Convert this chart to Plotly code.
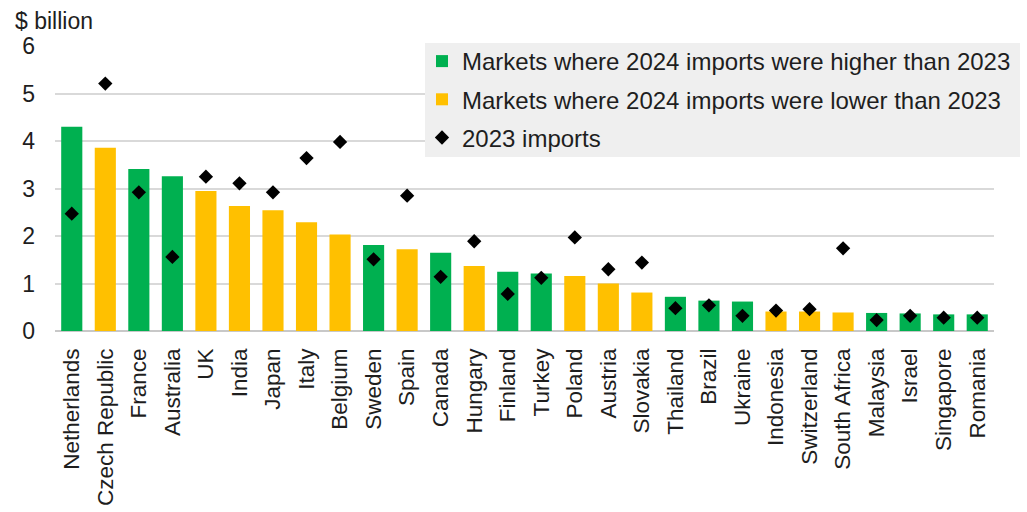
import plotly.graph_objects as go

# Import values by market, $ billion
countries = [
    "Netherlands", "Czech Republic", "France", "Australia", "UK", "India",
    "Japan", "Italy", "Belgium", "Sweden", "Spain", "Canada", "Hungary",
    "Finland", "Turkey", "Poland", "Austria", "Slovakia", "Thailand",
    "Brazil", "Ukraine", "Indonesia", "Switzerland", "South Africa",
    "Malaysia", "Israel", "Singapore", "Romania",
]
imports_2024 = [
    4.30, 3.86, 3.41, 3.26, 2.95, 2.63, 2.54, 2.29, 2.03, 1.81, 1.72, 1.65,
    1.37, 1.25, 1.21, 1.16, 1.00, 0.81, 0.72, 0.64, 0.62, 0.41, 0.41, 0.39,
    0.38, 0.37, 0.35, 0.35,
]
imports_2023 = [
    2.47, 5.21, 2.92, 1.56, 3.25, 3.11, 2.92, 3.64, 3.98, 1.51, 2.85, 1.14,
    1.89, 0.78, 1.12, 1.97, 1.30, 1.44, 0.48, 0.54, 0.32, 0.43, 0.46, 1.74,
    0.23, 0.32, 0.28, 0.28,
]
y_ticks = [0, 1, 2, 3, 4, 5, 6]

GREEN = "#00B050"
GOLD = "#FFC000"
LEGEND_BG = "#EFEFEF"
FONT = "Liberation Sans, Arial, sans-serif"
TEXT = "#1e1e1e"

up_x = [c for c, a, b in zip(countries, imports_2024, imports_2023) if a > b]
up_y = [a for a, b in zip(imports_2024, imports_2023) if a > b]
down_x = [c for c, a, b in zip(countries, imports_2024, imports_2023) if a <= b]
down_y = [a for a, b in zip(imports_2024, imports_2023) if a <= b]

fig = go.Figure()
fig.add_trace(go.Bar(
    x=up_x, y=up_y, marker_color=GREEN, marker_line_width=0,
    name="Markets where 2024 imports were higher than 2023",
    legendgroup="up",
))
fig.add_trace(go.Bar(
    x=down_x, y=down_y, marker_color=GOLD, marker_line_width=0,
    name="Markets where 2024 imports were lower than 2023",
    legendgroup="down",
))
fig.add_trace(go.Scatter(
    x=countries, y=imports_2023, mode="markers",
    marker=dict(symbol="diamond", size=11, color="black"),
    name="2023 imports", legendgroup="prev",
))

W, H = 1027, 512
ml, mr, mt, mb = 55, 33, 46, 181
pw = W - ml - mr
ph = H - mt - mb


def px_x(x):
    return (x - ml) / pw


def px_y(y):
    return (H - mb - y) / ph


fig.update_layout(
    width=W, height=H,
    margin=dict(l=ml, r=mr, t=mt, b=mb, pad=0, autoexpand=False),
    paper_bgcolor="white", plot_bgcolor="white",
    barmode="overlay", bargap=0.37,
    font=dict(family=FONT, color=TEXT, size=22),
    showlegend=True,
    legend=dict(
        x=px_x(422), y=px_y(39),
        xanchor="left", yanchor="top",
        bgcolor="rgba(0,0,0,0)", borderwidth=0,
        font=dict(size=24, family=FONT, color=TEXT),
        itemwidth=30, traceorder="grouped", tracegroupgap=4,
    ),
    xaxis=dict(
        type="category", categoryorder="array", categoryarray=countries,
        range=[-0.5, len(countries) - 0.5], autorange=False,
        tickangle=-90, tickfont=dict(size=22.5), showgrid=False,
        showline=False, ticks="", ticklabelstandoff=12, automargin=False,
    ),
    yaxis=dict(
        range=[0, 6], tickvals=y_ticks, ticktext=[str(v) for v in y_ticks],
        showgrid=True, gridcolor="#D9D9D9", gridwidth=1.5,
        zeroline=True, zerolinecolor="#C8C8C8", zerolinewidth=1.5,
        showline=False, ticks="", tickfont=dict(size=23),
        ticklabelstandoff=19, automargin=False,
    ),
    shapes=[dict(
        type="rect", xref="paper", yref="paper", layer="above",
        x0=px_x(425), x1=px_x(1020), y0=px_y(157), y1=px_y(43),
        fillcolor=LEGEND_BG, line_width=0,
    )],
    annotations=[dict(
        text="$ billion", xref="paper", yref="paper",
        x=px_x(13), y=px_y(21),
        xanchor="left", yanchor="middle", showarrow=False,
        font=dict(size=23, family=FONT, color=TEXT),
    )],
)

fig.write_html("out.html")
